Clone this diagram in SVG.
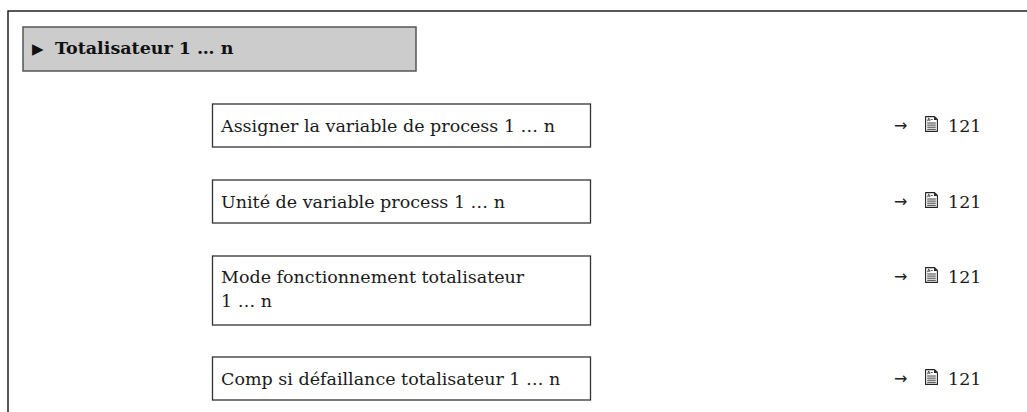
<svg xmlns="http://www.w3.org/2000/svg" width="1027" height="412" viewBox="0 0 1027 412">
<style>
.frame{fill:none;stroke:#222;stroke-width:1.5}
.hdr{fill:#cccccc;stroke:#555;stroke-width:1.5}
.box{fill:#fff;stroke:#333;stroke-width:1.3}
.t{font-family:"DejaVu Serif","Liberation Serif",serif;font-size:17.5px;fill:#1a1a1a}
.th{font-family:"DejaVu Serif","Liberation Serif",serif;font-size:17.5px;font-weight:bold;fill:#111}
.tri{font-family:"DejaVu Sans","Liberation Sans",sans-serif;font-size:15px;fill:#111}
.arr{font-family:"DejaVu Sans","Liberation Sans",sans-serif;font-size:16px;fill:#222}
</style>
<defs>
<g id="doc">
<path d="M0.6,0.6 H9.5 L12.4,3.5 V15.4 H0.6 Z" fill="#fff" stroke="#222" stroke-width="1.1" stroke-linejoin="round"/>
<path d="M9,0.6 L12.4,4 H9 Z" fill="#222"/>
<path d="M2.4,5.2 L3.7,1.9 L5,5.2 M3,4.1 H4.4 M5.6,3.5 H7.8" fill="none" stroke="#222" stroke-width="0.7"/>
<path d="M2.2,7 H10.8 M2.2,9.1 H10.8 M2.2,11.2 H10.8 M2.2,13.3 H10.8" stroke="#222" stroke-width="0.9"/>
</g>
</defs>
<g id="frame">
<path class="frame" d="M8,412 V11 H1027"/>
</g>
<g id="header">
<rect class="hdr" x="23" y="27" width="393" height="44"/>
<text x="32" y="54"><tspan class="tri">▶</tspan><tspan class="th" x="55">Totalisateur 1 … n</tspan></text>
</g>
<g id="connectors"></g>
<g id="node1">
<rect class="box" x="212.5" y="104" width="378" height="43"/>
<text class="t" x="221" y="132">Assigner la variable de process 1 … n</text>
<text class="arr" x="894" y="131">→</text>
<use href="#doc" x="925" y="116"/>
<text class="t" x="948" y="132">121</text>
</g>
<g id="node2">
<rect class="box" x="212.5" y="180" width="378" height="43"/>
<text class="t" x="221" y="208">Unité de variable process 1 … n</text>
<text class="arr" x="894" y="207">→</text>
<use href="#doc" x="925" y="192"/>
<text class="t" x="948" y="208">121</text>
</g>
<g id="node3">
<rect class="box" x="212.5" y="256" width="378" height="69"/>
<text class="t" x="221" y="283">Mode fonctionnement totalisateur</text>
<text class="t" x="221" y="307">1 … n</text>
<text class="arr" x="894" y="282">→</text>
<use href="#doc" x="925" y="267"/>
<text class="t" x="948" y="283">121</text>
</g>
<g id="node4">
<rect class="box" x="212.5" y="357" width="378" height="43"/>
<text class="t" x="221" y="385">Comp si défaillance totalisateur 1 … n</text>
<text class="arr" x="894" y="384">→</text>
<use href="#doc" x="925" y="369"/>
<text class="t" x="948" y="385">121</text>
</g>
</svg>
